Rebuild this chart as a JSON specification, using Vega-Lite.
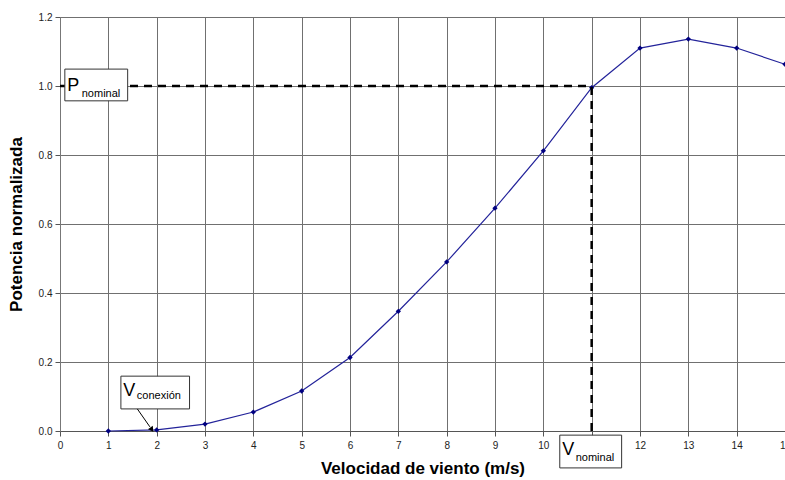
{
  "$schema": "https://vega.github.io/schema/vega-lite/v6.json",
  "width": 725,
  "height": 414,
  "autosize": {"type": "none"},
  "padding": {"left": 60, "top": 17, "right": 0, "bottom": 49},
  "config": {"font": "Liberation Sans", "view": {"stroke": null}},
  "layer": [
    {
      "data": {"values": [
        {"v": 1, "p": 0.0}, {"v": 2, "p": 0.003}, {"v": 3, "p": 0.02}, {"v": 4, "p": 0.055},
        {"v": 5, "p": 0.116}, {"v": 6, "p": 0.213}, {"v": 7, "p": 0.347}, {"v": 8, "p": 0.49},
        {"v": 9, "p": 0.646}, {"v": 10, "p": 0.812}, {"v": 11, "p": 0.995}, {"v": 12, "p": 1.11},
        {"v": 13, "p": 1.136}, {"v": 14, "p": 1.11}, {"v": 15, "p": 1.063}
      ]},
      "mark": {"type": "line", "color": "#23239a", "strokeWidth": 1.2, "point": {"shape": "diamond", "size": 28, "color": "#000080", "filled": true}},
      "encoding": {
        "x": {"field": "v", "type": "quantitative", "scale": {"domain": [0, 15], "nice": false},
          "axis": {"values": [0,1,2,3,4,5,6,7,8,9,10,11,12,13,14,15],
            "labelExpr": "datum.value == 11 ? '' : datum.label",
            "labelFlush": false, "labelOverlap": false,
            "title": "Velocidad de viento (m/s)", "titleFontSize": 17, "titleFontWeight": "bold", "titleColor": "#000", "titlePadding": 10,
            "labelFontSize": 10, "labelColor": "#222", "labelPadding": 4, "tickSize": 5,
            "grid": true, "gridColor": "#707070", "gridOpacity": 1, "domainColor": "#555", "tickColor": "#555"}},
        "y": {"field": "p", "type": "quantitative", "scale": {"domain": [0, 1.2], "nice": false},
          "axis": {"values": [0, 0.2, 0.4, 0.6, 0.8, 1.0, 1.2], "format": ".1f", "labelFlush": false,
            "title": "Potencia normalizada", "titleFontSize": 17, "titleFontWeight": "bold", "titleColor": "#000", "titlePadding": 13,
            "labelFontSize": 10, "labelColor": "#222", "labelPadding": 3, "tickSize": 5,
            "grid": true, "gridColor": "#707070", "gridOpacity": 1, "domainColor": "#777", "tickColor": "#555"}}
      }
    },
    {
      "data": {"values": [
        {"x": 0, "x2": 11, "y": 1.0, "y2": 1.0},
        {"x": 11, "x2": 11, "y": 0, "y2": 1.0}
      ]},
      "mark": {"type": "rule", "color": "#000", "strokeWidth": 2.5, "strokeDash": [8, 6]},
      "encoding": {
        "x": {"field": "x", "type": "quantitative"}, "x2": {"field": "x2"},
        "y": {"field": "y", "type": "quantitative"}, "y2": {"field": "y2"}
      }
    },
    {
      "data": {"values": [
        {"x": 0.1, "x2": 1.4, "y": 1.049, "y2": 0.957},
        {"x": 1.26, "x2": 2.68, "y": 0.159, "y2": 0.064},
        {"x": 10.34, "x2": 11.62, "y": -0.012, "y2": -0.107}
      ]},
      "mark": {"type": "rect", "fill": "#fff", "stroke": "#333", "strokeWidth": 1},
      "encoding": {
        "x": {"field": "x", "type": "quantitative"}, "x2": {"field": "x2"},
        "y": {"field": "y", "type": "quantitative"}, "y2": {"field": "y2"}
      }
    },
    {
      "data": {"values": [{"x": 1.6, "y": 0.064, "x2": 1.86, "y2": 0.012}]},
      "mark": {"type": "rule", "color": "#000", "strokeWidth": 1},
      "encoding": {
        "x": {"field": "x", "type": "quantitative"}, "x2": {"field": "x2"},
        "y": {"field": "y", "type": "quantitative"}, "y2": {"field": "y2"}
      }
    },
    {
      "data": {"values": [{"x": 1.89, "y": 0.006}]},
      "mark": {"type": "point", "shape": "triangle", "angle": 145, "size": 35, "filled": true, "color": "#000", "opacity": 1},
      "encoding": {
        "x": {"field": "x", "type": "quantitative"},
        "y": {"field": "y", "type": "quantitative"}
      }
    },
    {
      "data": {"values": [
        {"x": 0.15, "y": 0.986, "t": "P"},
        {"x": 1.31, "y": 0.101, "t": "V"},
        {"x": 10.39, "y": -0.071, "t": "V"}
      ]},
      "mark": {"type": "text", "align": "left", "baseline": "alphabetic", "fontSize": 18, "color": "#000"},
      "encoding": {
        "x": {"field": "x", "type": "quantitative"},
        "y": {"field": "y", "type": "quantitative"},
        "text": {"field": "t"}
      }
    },
    {
      "data": {"values": [
        {"x": 0.45, "y": 0.968, "t": "nominal"},
        {"x": 1.59, "y": 0.093, "t": "conexión"},
        {"x": 10.67, "y": -0.088, "t": "nominal"}
      ]},
      "mark": {"type": "text", "align": "left", "baseline": "alphabetic", "fontSize": 11, "color": "#000"},
      "encoding": {
        "x": {"field": "x", "type": "quantitative"},
        "y": {"field": "y", "type": "quantitative"},
        "text": {"field": "t"}
      }
    }
  ]
}
